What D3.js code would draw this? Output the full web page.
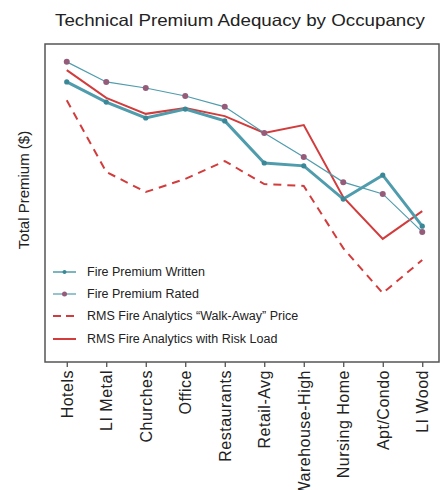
<!DOCTYPE html>
<html><head><meta charset="utf-8">
<script src="https://cdn.jsdelivr.net/npm/d3@7"></script>
<style>body{margin:0;background:#fff;}svg{display:block;font-family:"Liberation Sans",Arial,sans-serif;}</style>
</head><body>
<svg id="c" width="443" height="490"></svg>
<script>
const categories = ["Hotels","LI Metal","Churches","Office","Restaurants","Retail-Avg","Warehouse-High","Nursing Home","Apt/Condo","LI Wood"];
const written   = [88.1, 81.8, 76.8, 79.6, 75.9, 62.7, 61.8, 51.4, 58.9, 42.9];
const rated     = [94.4, 88.1, 86.2, 83.7, 80.3, 72.1, 64.6, 56.7, 53.0, 41.1];
const walkAway  = [82.4, 59.9, 53.6, 57.7, 63.3, 56.1, 55.5, 36.0, 21.9, 32.3];
const riskLoad  = [91.8, 83.1, 78.1, 79.9, 77.4, 72.1, 74.6, 52.0, 38.9, 47.6];
const seriesNames = ["Fire Premium Written","Fire Premium Rated","RMS Fire Analytics \u201cWalk-Away\u201d Price","RMS Fire Analytics with Risk Load"];

const svg = d3.select("#c");
const F = {l:45, r:439, t:44, b:362};
const x = d3.scalePoint().domain(categories).range([47, 442]).padding(0.5);
const y = d3.scaleLinear().domain([0, 100]).range([363, 44]);

const teal = "#4f9cad", purple = "#955c7a", red = "#d23c3c";

// title
svg.append("text").attr("x", 240).attr("y", 26).attr("text-anchor","middle")
  .attr("font-size", 16.5).attr("fill","#222")
  .attr("textLength", 370).attr("lengthAdjust","spacingAndGlyphs")
  .text("Technical Premium Adequacy by Occupancy");

// y label
svg.append("text").attr("transform","translate(29,190) rotate(-90)")
  .attr("text-anchor","middle").attr("font-size",15).attr("fill","#222")
  .text("Total Premium ($)");

// x axis
const xa = svg.append("g").attr("transform",`translate(0,${F.b})`)
  .call(d3.axisBottom(x).tickSize(5).tickPadding(4));
xa.select(".domain").remove();
xa.selectAll(".tick line").attr("stroke","#444").attr("stroke-width",1.2);
xa.selectAll(".tick text")
  .attr("transform","rotate(-90)").attr("text-anchor","end")
  .attr("x",-8).attr("y",0).attr("dy","0.35em")
  .attr("font-size",16).attr("letter-spacing","0.5px").attr("fill","#222")
  .attr("font-family","'Liberation Sans',Arial,sans-serif");

const line = d3.line().x((d,i)=>x(categories[i])).y(d=>y(d));

// walk-away dashed
svg.append("path").datum(walkAway).attr("d",line).attr("fill","none")
  .attr("stroke",red).attr("stroke-width",2).attr("stroke-dasharray","8,6");
// risk load
svg.append("path").datum(riskLoad).attr("d",line).attr("fill","none")
  .attr("stroke",red).attr("stroke-width",2);
// rated
svg.append("path").datum(rated).attr("d",line).attr("fill","none")
  .attr("stroke",teal).attr("stroke-width",1.2);
svg.append("g").selectAll("circle").data(rated).join("circle")
  .attr("cx",(d,i)=>x(categories[i])).attr("cy",d=>y(d)).attr("r",3).attr("fill",purple);
// written
svg.append("path").datum(written).attr("d",line).attr("fill","none")
  .attr("stroke",teal).attr("stroke-width",3);
svg.append("g").selectAll("circle").data(written).join("circle")
  .attr("cx",(d,i)=>x(categories[i])).attr("cy",d=>y(d)).attr("r",2.6).attr("fill","#3a8797");

// frame
svg.append("rect").attr("x",F.l).attr("y",F.t).attr("width",F.r-F.l).attr("height",F.b-F.t)
  .attr("fill","none").attr("stroke","#555").attr("stroke-width",1.5);

// legend
const legY = [272, 294, 316, 339];
const lg = svg.append("g");
const styles = [
  {c:teal, w:1.5, dash:null, dot:"#3a8797", r:2},
  {c:teal, w:1.2, dash:null, dot:purple, r:2.5},
  {c:red, w:2, dash:"8,5", dot:null},
  {c:red, w:2, dash:null, dot:null}
];
seriesNames.forEach((n,i)=>{
  const s = styles[i];
  lg.append("line").attr("x1",53).attr("x2",76).attr("y1",legY[i]).attr("y2",legY[i])
    .attr("stroke",s.c).attr("stroke-width",s.w).attr("stroke-dasharray",s.dash);
  if (s.dot) lg.append("circle").attr("cx",64.5).attr("cy",legY[i]).attr("r",s.r).attr("fill",s.dot);
  lg.append("text").attr("x",87).attr("y",legY[i]).attr("dy","0.35em")
    .attr("font-size",12.5).attr("fill","#222").text(n);
});
</script>
</body></html>
